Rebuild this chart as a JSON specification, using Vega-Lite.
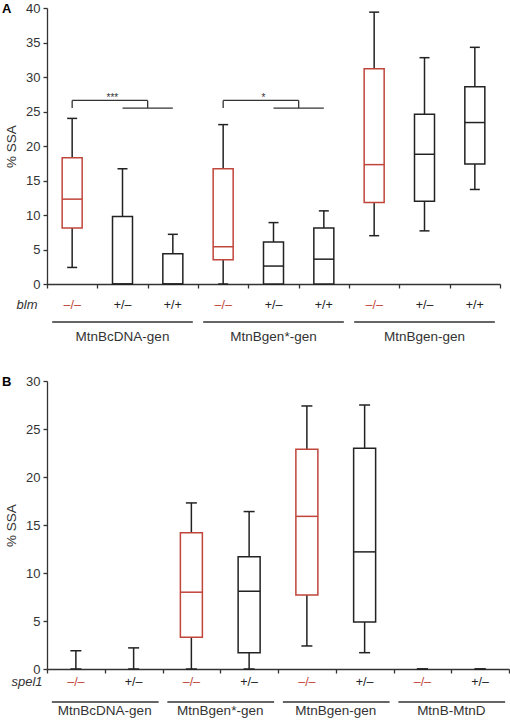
{
  "$schema": "https://vega.github.io/schema/vega-lite/v6.json",
  "padding": {"left": 2, "top": 2, "right": 0, "bottom": 0},
  "spacing": 31,
  "config": {
    "font": "Liberation Sans",
    "view": {"stroke": null},
    "axis": {"domainColor": "#333", "tickColor": "#333", "labelColor": "#333", "titleColor": "#333", "grid": false, "domainWidth": 1.3, "tickWidth": 1.3}
  },
  "datasets": {
    "boxesA": [
      {"pos": 0, "geno": "–/–", "mut": "y", "lo": 2.4, "q1": 8.1, "med": 12.3, "q3": 18.3, "hi": 24.0},
      {"pos": 1, "geno": "+/–", "mut": "n", "lo": 0, "q1": 0, "med": 0, "q3": 9.8, "hi": 16.7},
      {"pos": 2, "geno": "+/+", "mut": "n", "lo": 0, "q1": 0, "med": 0, "q3": 4.4, "hi": 7.2},
      {"pos": 3, "geno": "–/–", "mut": "y", "lo": 0, "q1": 3.5, "med": 5.4, "q3": 16.7, "hi": 23.1},
      {"pos": 4, "geno": "+/–", "mut": "n", "lo": 0, "q1": 0, "med": 2.6, "q3": 6.1, "hi": 8.9},
      {"pos": 5, "geno": "+/+", "mut": "n", "lo": 0, "q1": 0, "med": 3.6, "q3": 8.1, "hi": 10.6},
      {"pos": 6, "geno": "–/–", "mut": "y", "lo": 7.0, "q1": 11.8, "med": 17.3, "q3": 31.2, "hi": 39.4},
      {"pos": 7, "geno": "+/–", "mut": "n", "lo": 7.7, "q1": 12.0, "med": 18.8, "q3": 24.6, "hi": 32.8},
      {"pos": 8, "geno": "+/+", "mut": "n", "lo": 13.7, "q1": 17.4, "med": 23.4, "q3": 28.6, "hi": 34.3}
    ],
    "boxesB": [
      {"pos": 0, "geno": "–/–", "mut": "y", "lo": 0, "q1": 0, "med": 0, "q3": 0, "hi": 1.9},
      {"pos": 1, "geno": "+/–", "mut": "n", "lo": 0, "q1": 0, "med": 0, "q3": 0, "hi": 2.2},
      {"pos": 2, "geno": "–/–", "mut": "y", "lo": 0, "q1": 3.3, "med": 8.0, "q3": 14.2, "hi": 17.3},
      {"pos": 3, "geno": "+/–", "mut": "n", "lo": 0, "q1": 1.7, "med": 8.1, "q3": 11.7, "hi": 16.4},
      {"pos": 4, "geno": "–/–", "mut": "y", "lo": 2.4, "q1": 7.7, "med": 15.9, "q3": 22.9, "hi": 27.4},
      {"pos": 5, "geno": "+/–", "mut": "n", "lo": 1.7, "q1": 4.9, "med": 12.2, "q3": 23.0, "hi": 27.5},
      {"pos": 6, "geno": "–/–", "mut": "y", "lo": 0, "q1": 0, "med": 0, "q3": 0, "hi": 0},
      {"pos": 7, "geno": "+/–", "mut": "n", "lo": 0, "q1": 0, "med": 0, "q3": 0, "hi": 0}
    ],
    "groupsA": [
      {"g": "MtnBcDNA-gen", "a": 0, "b": 2, "c": 1},
      {"g": "MtnBgen*-gen", "a": 3, "b": 5, "c": 4},
      {"g": "MtnBgen-gen", "a": 6, "b": 8, "c": 7}
    ],
    "groupsB": [
      {"g": "MtnBcDNA-gen", "a": 0, "b": 1, "c": 0.5},
      {"g": "MtnBgen*-gen", "a": 2, "b": 3, "c": 2.5},
      {"g": "MtnBgen-gen", "a": 4, "b": 5, "c": 4.5},
      {"g": "MtnB-MtnD", "a": 6, "b": 7, "c": 6.5}
    ],
    "brackets": [
      {"x": 0, "x2": 0, "y": 25.5, "y2": 26.6},
      {"x": 0, "x2": 1.5, "y": 26.6, "y2": 26.6},
      {"x": 1.5, "x2": 1.5, "y": 26.6, "y2": 25.5},
      {"x": 1, "x2": 2, "y": 25.5, "y2": 25.5},
      {"x": 3, "x2": 3, "y": 25.5, "y2": 26.6},
      {"x": 3, "x2": 4.5, "y": 26.6, "y2": 26.6},
      {"x": 4.5, "x2": 4.5, "y": 26.6, "y2": 25.5},
      {"x": 4, "x2": 5, "y": 25.5, "y2": 25.5}
    ],
    "stars": [
      {"x": 0.8, "y": 26.6, "t": "***"},
      {"x": 3.8, "y": 26.6, "t": "*"}
    ]
  },
  "vconcat": [
    {
      "width": 453,
      "height": 276,
      "title": {"text": "A", "anchor": "start", "frame": "group", "dx": -45, "offset": -20, "baseline": "middle", "fontSize": 13, "fontWeight": "bold", "color": "black"},
      "layer": [
        {
          "data": {"name": "boxesA"},
          "mark": {"type": "rule", "color": "#222", "strokeWidth": 1.5},
          "encoding": {
            "x": {"field": "pos", "type": "quantitative", "scale": {"domain": [-0.5, 8.5], "nice": false, "zero": false},
                  "axis": {"title": null, "values": [-0.5, 0.5, 1.5, 2.5, 3.5, 4.5, 5.5, 6.5, 7.5, 8.5], "labels": false, "tickSize": 4}},
            "y": {"field": "lo", "type": "quantitative", "scale": {"domain": [0, 40], "nice": false},
                  "axis": {"title": "% SSA", "values": [0, 5, 10, 15, 20, 25, 30, 35, 40], "tickSize": 4, "labelPadding": 3, "labelFontSize": 13, "titleFontSize": 13.5, "titleFontWeight": "normal", "titlePadding": 7}},
            "y2": {"field": "hi"}
          }
        },
        {
          "data": {"name": "boxesA"},
          "mark": {"type": "rule", "color": "#222", "strokeWidth": 1.5, "xOffset": -5, "x2Offset": 5},
          "encoding": {
            "x": {"field": "pos", "type": "quantitative", "axis": {"title": null, "values": [-0.5, 0.5, 1.5, 2.5, 3.5, 4.5, 5.5, 6.5, 7.5, 8.5], "labels": false, "tickSize": 4}},
            "x2": {"field": "pos"},
            "y": {"field": "hi", "type": "quantitative", "axis": {"title": "% SSA", "values": [0, 5, 10, 15, 20, 25, 30, 35, 40], "tickSize": 4, "labelPadding": 3, "labelFontSize": 13, "titleFontSize": 13.5, "titleFontWeight": "normal", "titlePadding": 7}}
          }
        },
        {
          "data": {"name": "boxesA"},
          "mark": {"type": "rule", "color": "#222", "strokeWidth": 1.5, "xOffset": -5, "x2Offset": 5},
          "encoding": {
            "x": {"field": "pos", "type": "quantitative", "axis": {"title": null, "values": [-0.5, 0.5, 1.5, 2.5, 3.5, 4.5, 5.5, 6.5, 7.5, 8.5], "labels": false, "tickSize": 4}},
            "x2": {"field": "pos"},
            "y": {"field": "lo", "type": "quantitative", "axis": {"title": "% SSA", "values": [0, 5, 10, 15, 20, 25, 30, 35, 40], "tickSize": 4, "labelPadding": 3, "labelFontSize": 13, "titleFontSize": 13.5, "titleFontWeight": "normal", "titlePadding": 7}}
          }
        },
        {
          "data": {"name": "boxesA"},
          "transform": [{"filter": "datum.q3 > datum.q1"}],
          "mark": {"type": "rect", "fill": "white", "strokeWidth": 1.5, "xOffset": -10, "x2Offset": 10},
          "encoding": {
            "x": {"field": "pos", "type": "quantitative", "axis": {"title": null, "values": [-0.5, 0.5, 1.5, 2.5, 3.5, 4.5, 5.5, 6.5, 7.5, 8.5], "labels": false, "tickSize": 4}},
            "x2": {"field": "pos"},
            "y": {"field": "q1", "type": "quantitative", "axis": {"title": "% SSA", "values": [0, 5, 10, 15, 20, 25, 30, 35, 40], "tickSize": 4, "labelPadding": 3, "labelFontSize": 13, "titleFontSize": 13.5, "titleFontWeight": "normal", "titlePadding": 7}},
            "y2": {"field": "q3"},
            "stroke": {"field": "mut", "type": "nominal", "scale": {"domain": ["y", "n"], "range": ["#c0453a", "#222222"]}, "legend": null}
          }
        },
        {
          "data": {"name": "boxesA"},
          "mark": {"type": "rule", "strokeWidth": 1.5, "xOffset": -10, "x2Offset": 10},
          "encoding": {
            "x": {"field": "pos", "type": "quantitative", "axis": {"title": null, "values": [-0.5, 0.5, 1.5, 2.5, 3.5, 4.5, 5.5, 6.5, 7.5, 8.5], "labels": false, "tickSize": 4}},
            "x2": {"field": "pos"},
            "y": {"field": "med", "type": "quantitative", "axis": {"title": "% SSA", "values": [0, 5, 10, 15, 20, 25, 30, 35, 40], "tickSize": 4, "labelPadding": 3, "labelFontSize": 13, "titleFontSize": 13.5, "titleFontWeight": "normal", "titlePadding": 7}},
            "color": {"field": "mut", "type": "nominal", "scale": {"domain": ["y", "n"], "range": ["#c0453a", "#222222"]}, "legend": null}
          }
        },
        {
          "data": {"name": "boxesA"},
          "mark": {"type": "text", "dy": 21, "baseline": "middle", "fontSize": 12.5},
          "encoding": {
            "x": {"field": "pos", "type": "quantitative", "axis": {"title": null, "values": [-0.5, 0.5, 1.5, 2.5, 3.5, 4.5, 5.5, 6.5, 7.5, 8.5], "labels": false, "tickSize": 4}},
            "y": {"datum": 0, "type": "quantitative", "axis": {"title": "% SSA", "values": [0, 5, 10, 15, 20, 25, 30, 35, 40], "tickSize": 4, "labelPadding": 3, "labelFontSize": 13, "titleFontSize": 13.5, "titleFontWeight": "normal", "titlePadding": 7}},
            "text": {"field": "geno"},
            "color": {"field": "mut", "type": "nominal", "scale": {"domain": ["y", "n"], "range": ["#d0665c", "#333333"]}, "legend": null}
          }
        },
        {
          "data": {"values": [{"t": "blm"}]},
          "mark": {"type": "text", "dx": -20, "dy": 21, "baseline": "middle", "fontSize": 13, "fontStyle": "italic", "color": "#333"},
          "encoding": {
            "x": {"datum": -0.5, "type": "quantitative", "axis": {"title": null, "values": [-0.5, 0.5, 1.5, 2.5, 3.5, 4.5, 5.5, 6.5, 7.5, 8.5], "labels": false, "tickSize": 4}},
            "y": {"datum": 0, "type": "quantitative", "axis": {"title": "% SSA", "values": [0, 5, 10, 15, 20, 25, 30, 35, 40], "tickSize": 4, "labelPadding": 3, "labelFontSize": 13, "titleFontSize": 13.5, "titleFontWeight": "normal", "titlePadding": 7}},
            "text": {"field": "t"}
          }
        },
        {
          "data": {"name": "groupsA"},
          "mark": {"type": "rule", "color": "#333", "strokeWidth": 1.3, "yOffset": 38, "xOffset": -20, "x2Offset": 20},
          "encoding": {
            "x": {"field": "a", "type": "quantitative", "axis": {"title": null, "values": [-0.5, 0.5, 1.5, 2.5, 3.5, 4.5, 5.5, 6.5, 7.5, 8.5], "labels": false, "tickSize": 4}},
            "x2": {"field": "b"},
            "y": {"datum": 0, "type": "quantitative", "axis": {"title": "% SSA", "values": [0, 5, 10, 15, 20, 25, 30, 35, 40], "tickSize": 4, "labelPadding": 3, "labelFontSize": 13, "titleFontSize": 13.5, "titleFontWeight": "normal", "titlePadding": 7}}
          }
        },
        {
          "data": {"name": "groupsA"},
          "mark": {"type": "text", "dy": 53, "baseline": "middle", "fontSize": 13.5, "color": "#333"},
          "encoding": {
            "x": {"field": "c", "type": "quantitative", "axis": {"title": null, "values": [-0.5, 0.5, 1.5, 2.5, 3.5, 4.5, 5.5, 6.5, 7.5, 8.5], "labels": false, "tickSize": 4}},
            "y": {"datum": 0, "type": "quantitative", "axis": {"title": "% SSA", "values": [0, 5, 10, 15, 20, 25, 30, 35, 40], "tickSize": 4, "labelPadding": 3, "labelFontSize": 13, "titleFontSize": 13.5, "titleFontWeight": "normal", "titlePadding": 7}},
            "text": {"field": "g"}
          }
        },
        {
          "data": {"name": "brackets"},
          "mark": {"type": "rule", "color": "#333", "strokeWidth": 1.3},
          "encoding": {
            "x": {"field": "x", "type": "quantitative", "axis": {"title": null, "values": [-0.5, 0.5, 1.5, 2.5, 3.5, 4.5, 5.5, 6.5, 7.5, 8.5], "labels": false, "tickSize": 4}},
            "x2": {"field": "x2"},
            "y": {"field": "y", "type": "quantitative", "axis": {"title": "% SSA", "values": [0, 5, 10, 15, 20, 25, 30, 35, 40], "tickSize": 4, "labelPadding": 3, "labelFontSize": 13, "titleFontSize": 13.5, "titleFontWeight": "normal", "titlePadding": 7}},
            "y2": {"field": "y2"}
          }
        },
        {
          "data": {"name": "stars"},
          "mark": {"type": "text", "baseline": "alphabetic", "dy": 1, "fontSize": 10, "color": "#333"},
          "encoding": {
            "x": {"field": "x", "type": "quantitative", "axis": {"title": null, "values": [-0.5, 0.5, 1.5, 2.5, 3.5, 4.5, 5.5, 6.5, 7.5, 8.5], "labels": false, "tickSize": 4}},
            "y": {"field": "y", "type": "quantitative", "axis": {"title": "% SSA", "values": [0, 5, 10, 15, 20, 25, 30, 35, 40], "tickSize": 4, "labelPadding": 3, "labelFontSize": 13, "titleFontSize": 13.5, "titleFontWeight": "normal", "titlePadding": 7}},
            "text": {"field": "t"}
          }
        }
      ]
    },
    {
      "width": 462,
      "height": 288,
      "title": {"text": "B", "anchor": "start", "frame": "group", "dx": -45, "offset": -20, "baseline": "middle", "fontSize": 13, "fontWeight": "bold", "color": "black"},
      "layer": [
        {
          "data": {"name": "boxesB"},
          "mark": {"type": "rule", "color": "#222", "strokeWidth": 1.5},
          "encoding": {
            "x": {"field": "pos", "type": "quantitative", "scale": {"domain": [-0.5, 7.5], "nice": false, "zero": false},
                  "axis": {"title": null, "values": [-0.5, 0.5, 1.5, 2.5, 3.5, 4.5, 5.5, 6.5, 7.5], "labels": false, "tickSize": 4}},
            "y": {"field": "lo", "type": "quantitative", "scale": {"domain": [0, 30], "nice": false},
                  "axis": {"title": "% SSA", "values": [0, 5, 10, 15, 20, 25, 30], "tickSize": 4, "labelPadding": 3, "labelFontSize": 13, "titleFontSize": 13.5, "titleFontWeight": "normal", "titlePadding": 7}},
            "y2": {"field": "hi"}
          }
        },
        {
          "data": {"name": "boxesB"},
          "mark": {"type": "rule", "color": "#222", "strokeWidth": 1.5, "xOffset": -5.5, "x2Offset": 5.5},
          "encoding": {
            "x": {"field": "pos", "type": "quantitative", "axis": {"title": null, "values": [-0.5, 0.5, 1.5, 2.5, 3.5, 4.5, 5.5, 6.5, 7.5], "labels": false, "tickSize": 4}},
            "x2": {"field": "pos"},
            "y": {"field": "hi", "type": "quantitative", "axis": {"title": "% SSA", "values": [0, 5, 10, 15, 20, 25, 30], "tickSize": 4, "labelPadding": 3, "labelFontSize": 13, "titleFontSize": 13.5, "titleFontWeight": "normal", "titlePadding": 7}}
          }
        },
        {
          "data": {"name": "boxesB"},
          "mark": {"type": "rule", "color": "#222", "strokeWidth": 1.5, "xOffset": -5.5, "x2Offset": 5.5},
          "encoding": {
            "x": {"field": "pos", "type": "quantitative", "axis": {"title": null, "values": [-0.5, 0.5, 1.5, 2.5, 3.5, 4.5, 5.5, 6.5, 7.5], "labels": false, "tickSize": 4}},
            "x2": {"field": "pos"},
            "y": {"field": "lo", "type": "quantitative", "axis": {"title": "% SSA", "values": [0, 5, 10, 15, 20, 25, 30], "tickSize": 4, "labelPadding": 3, "labelFontSize": 13, "titleFontSize": 13.5, "titleFontWeight": "normal", "titlePadding": 7}}
          }
        },
        {
          "data": {"name": "boxesB"},
          "transform": [{"filter": "datum.q3 > datum.q1"}],
          "mark": {"type": "rect", "fill": "white", "strokeWidth": 1.5, "xOffset": -11, "x2Offset": 11},
          "encoding": {
            "x": {"field": "pos", "type": "quantitative", "axis": {"title": null, "values": [-0.5, 0.5, 1.5, 2.5, 3.5, 4.5, 5.5, 6.5, 7.5], "labels": false, "tickSize": 4}},
            "x2": {"field": "pos"},
            "y": {"field": "q1", "type": "quantitative", "axis": {"title": "% SSA", "values": [0, 5, 10, 15, 20, 25, 30], "tickSize": 4, "labelPadding": 3, "labelFontSize": 13, "titleFontSize": 13.5, "titleFontWeight": "normal", "titlePadding": 7}},
            "y2": {"field": "q3"},
            "stroke": {"field": "mut", "type": "nominal", "scale": {"domain": ["y", "n"], "range": ["#c0453a", "#222222"]}, "legend": null}
          }
        },
        {
          "data": {"name": "boxesB"},
          "transform": [{"filter": "datum.q3 > datum.q1"}],
          "mark": {"type": "rule", "strokeWidth": 1.5, "xOffset": -11, "x2Offset": 11},
          "encoding": {
            "x": {"field": "pos", "type": "quantitative", "axis": {"title": null, "values": [-0.5, 0.5, 1.5, 2.5, 3.5, 4.5, 5.5, 6.5, 7.5], "labels": false, "tickSize": 4}},
            "x2": {"field": "pos"},
            "y": {"field": "med", "type": "quantitative", "axis": {"title": "% SSA", "values": [0, 5, 10, 15, 20, 25, 30], "tickSize": 4, "labelPadding": 3, "labelFontSize": 13, "titleFontSize": 13.5, "titleFontWeight": "normal", "titlePadding": 7}},
            "color": {"field": "mut", "type": "nominal", "scale": {"domain": ["y", "n"], "range": ["#c0453a", "#222222"]}, "legend": null}
          }
        },
        {
          "data": {"name": "boxesB"},
          "mark": {"type": "text", "dy": 13, "baseline": "middle", "fontSize": 12.5},
          "encoding": {
            "x": {"field": "pos", "type": "quantitative", "axis": {"title": null, "values": [-0.5, 0.5, 1.5, 2.5, 3.5, 4.5, 5.5, 6.5, 7.5], "labels": false, "tickSize": 4}},
            "y": {"datum": 0, "type": "quantitative", "axis": {"title": "% SSA", "values": [0, 5, 10, 15, 20, 25, 30], "tickSize": 4, "labelPadding": 3, "labelFontSize": 13, "titleFontSize": 13.5, "titleFontWeight": "normal", "titlePadding": 7}},
            "text": {"field": "geno"},
            "color": {"field": "mut", "type": "nominal", "scale": {"domain": ["y", "n"], "range": ["#d0665c", "#333333"]}, "legend": null}
          }
        },
        {
          "data": {"values": [{"t": "spel1"}]},
          "mark": {"type": "text", "dx": -20, "dy": 13, "baseline": "middle", "fontSize": 13, "fontStyle": "italic", "color": "#333"},
          "encoding": {
            "x": {"datum": -0.5, "type": "quantitative", "axis": {"title": null, "values": [-0.5, 0.5, 1.5, 2.5, 3.5, 4.5, 5.5, 6.5, 7.5], "labels": false, "tickSize": 4}},
            "y": {"datum": 0, "type": "quantitative", "axis": {"title": "% SSA", "values": [0, 5, 10, 15, 20, 25, 30], "tickSize": 4, "labelPadding": 3, "labelFontSize": 13, "titleFontSize": 13.5, "titleFontWeight": "normal", "titlePadding": 7}},
            "text": {"field": "t"}
          }
        },
        {
          "data": {"name": "groupsB"},
          "mark": {"type": "rule", "color": "#333", "strokeWidth": 1.3, "yOffset": 33, "xOffset": -24, "x2Offset": 25},
          "encoding": {
            "x": {"field": "a", "type": "quantitative", "axis": {"title": null, "values": [-0.5, 0.5, 1.5, 2.5, 3.5, 4.5, 5.5, 6.5, 7.5], "labels": false, "tickSize": 4}},
            "x2": {"field": "b"},
            "y": {"datum": 0, "type": "quantitative", "axis": {"title": "% SSA", "values": [0, 5, 10, 15, 20, 25, 30], "tickSize": 4, "labelPadding": 3, "labelFontSize": 13, "titleFontSize": 13.5, "titleFontWeight": "normal", "titlePadding": 7}}
          }
        },
        {
          "data": {"name": "groupsB"},
          "mark": {"type": "text", "dy": 42, "baseline": "middle", "fontSize": 13.5, "color": "#333"},
          "encoding": {
            "x": {"field": "c", "type": "quantitative", "axis": {"title": null, "values": [-0.5, 0.5, 1.5, 2.5, 3.5, 4.5, 5.5, 6.5, 7.5], "labels": false, "tickSize": 4}},
            "y": {"datum": 0, "type": "quantitative", "axis": {"title": "% SSA", "values": [0, 5, 10, 15, 20, 25, 30], "tickSize": 4, "labelPadding": 3, "labelFontSize": 13, "titleFontSize": 13.5, "titleFontWeight": "normal", "titlePadding": 7}},
            "text": {"field": "g"}
          }
        }
      ]
    }
  ]
}
